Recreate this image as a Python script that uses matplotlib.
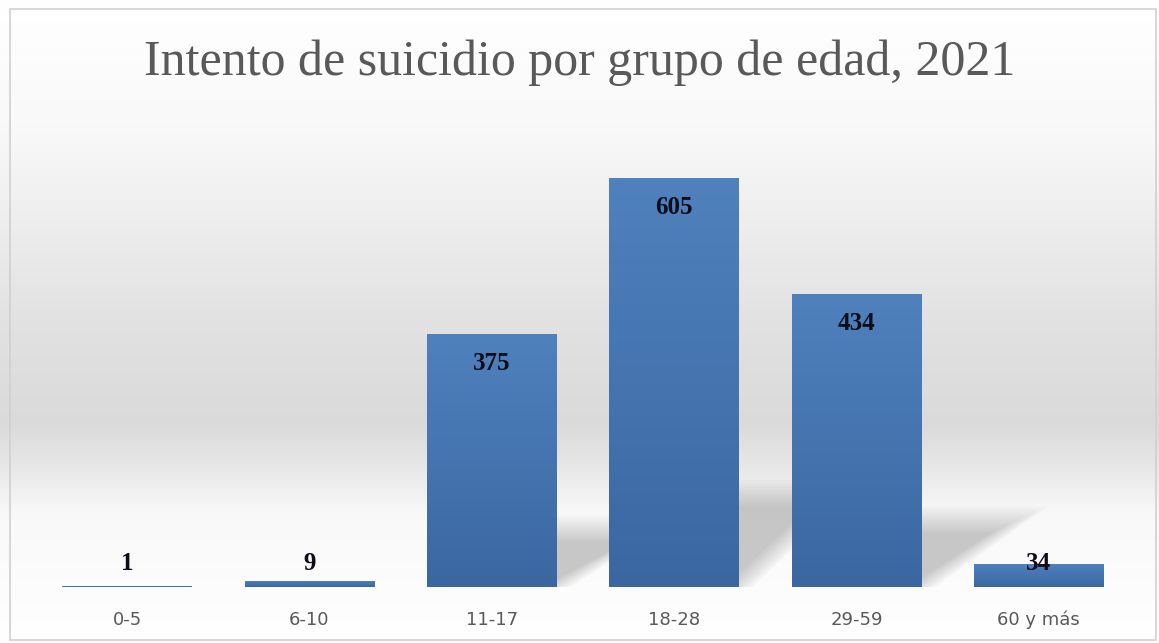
import matplotlib.pyplot as plt
import numpy as np
from matplotlib.patches import Rectangle, Polygon

grupos = ['0-5', '6-10', '11-17', '18-28', '29-59', '60 y más']
casos = [1, 9, 375, 605, 434, 34]
titulo = 'Intento de suicidio por grupo de edad, 2021'

W, H = 1159, 643
fig = plt.figure(figsize=(W / 100, H / 100), dpi=100)

# fondo con degradado (blanco - gris - blanco)
bg = fig.add_axes([0, 0, 1, 1], zorder=0)
t = np.linspace(0, 1, 400)
g = np.interp(t, [0, 0.2, 0.5, 0.66, 0.73, 0.8, 1.0],
              [1.0, 0.975, 0.885, 0.855, 0.91, 0.975, 1.0])
img = np.repeat(np.dstack([g[:, None], g[:, None], g[:, None]]), 2, axis=1)
bg.imshow(img, aspect='auto', extent=[0, 1, 0, 1], origin='upper')
bg.set_xlim(0, 1); bg.set_ylim(0, 1)
bg.axis('off')
bg.add_patch(Rectangle((10 / W, 3 / H), 1146 / W, 631 / H, fill=False,
                       ec='#d0d0d0', lw=1.2, transform=fig.transFigure))

# ejes: base en y=587 px, escala 0.676 px por caso
left, right = 36, 1130
base, top = 587, 150
ax = fig.add_axes([left / W, 1 - base / H, (right - left) / W, (base - top) / H], zorder=1)
ax.patch.set_alpha(0)
ymax = (base - top) / 0.676

x = np.arange(len(grupos))
ancho = 0.71
bars = ax.bar(x, casos, width=ancho, color='#4a79b4', edgecolor='none', zorder=3)

# sombras en perspectiva detrás de las barras (difuminadas por capas)
for xi, v in zip(x, casos):
    if v < 100:
        continue
    hs = v * 0.23
    off = 0.54
    for k in range(12):
        d = (k - 5.5) * 0.014
        e = (k - 5.5) * 3.5
        poly = Polygon([(xi - ancho / 2, 0), (xi + ancho / 2 + d, 0),
                        (xi + ancho / 2 + off + d * 2, hs + e), (xi - ancho / 2 + off, hs + e)],
                       closed=True, fc='#5a5a5a', ec='none', alpha=0.028, zorder=2)
        ax.add_patch(poly)

# degradado dentro de cada barra
grad = np.linspace(0, 1, 100)[:, None]
cmap = plt.matplotlib.colors.LinearSegmentedColormap.from_list('b', ['#3b67a1', '#4f81bd'])
for b in bars:
    x0, w, h = b.get_x(), b.get_width(), b.get_height()
    im = ax.imshow(grad, cmap=cmap, aspect='auto', origin='lower',
                   extent=[x0, x0 + w, 0, h], zorder=4)
    im.set_clip_path(b)
ax.set_xlim(-0.5, len(grupos) - 0.5)
ax.set_ylim(0, ymax)

for xi, v in zip(x, casos):
    ypos = max(v - 44, 35)
    ax.text(xi, ypos, str(v), ha='center', va='center', fontsize=18,
            fontweight='bold', family='Liberation Serif', color='#0d0d1a', zorder=5)

ax.set_xticks(x)
ax.set_xticklabels(grupos, fontsize=13, color='#595959', family='DejaVu Sans')
ax.tick_params(axis='x', length=0, pad=17)
ax.set_yticks([])
for s in ax.spines.values():
    s.set_visible(False)

fig.text(0.5, 1 - 63 / H, titulo, ha='center', va='center', fontsize=36,
         family='Liberation Serif', color='#595959')

fig.savefig('out.png', dpi=100)
